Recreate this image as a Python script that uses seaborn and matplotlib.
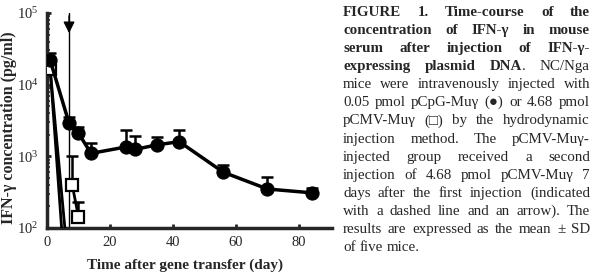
import numpy as np
import pandas as pd
import seaborn as sns
import matplotlib.pyplot as plt
from matplotlib.ticker import LogLocator, LogFormatterMathtext, NullFormatter

# pCpG-Mu-gamma (filled circles)
cpg_day = [1, 7, 10, 14, 25, 28, 35, 42, 56, 70, 84]
cpg_mean = [22000, 2900, 2100, 1100, 1350, 1250, 1450, 1600, 600, 350, 310]
cpg_upper = [28000, 3550, 2570, 1550, 2350, 1900, 1860, 2350, 760, 510, 365]

# pCMV-Mu-gamma (open squares), first injection falls below detection
cmv_day = [1, 5]
cmv_mean = [16500, 60]
cmv_drop_day = [1, 6]
cmv_drop_mean = [16500, 70]

# pCMV-Mu-gamma after the second injection on day 7
cmv2_day = [8, 10]
cmv2_mean = [400, 143]
cmv2_upper = [1000, 230]

second_injection_day = 7

caption = [
    "**FIGURE 1. Time-course of the",
    "concentration of IFN-γ in mouse",
    "serum after injection of IFN-γ-",
    "expressing plasmid DNA**. NC/Nga",
    "mice were intravenously injected with",
    "0.05 pmol pCpG-Muγ (●) or 4.68 pmol",
    "pCMV-Muγ (□) by the hydrodynamic",
    "injection method. The pCMV-Muγ-",
    "injected group received a second",
    "injection of 4.68 pmol pCMV-Muγ 7",
    "days after the first injection (indicated",
    "with a dashed line and an arrow). The",
    "results are expressed as the mean ± SD",
    "of five mice.",
]

sns.set_style("ticks")
plt.rcParams['font.family'] = ['Liberation Serif', 'DejaVu Sans']
plt.rcParams['mathtext.fontset'] = 'stix'

W, H = 597, 272
fig = plt.figure(figsize=(W / 100, H / 100), dpi=100)
ax = fig.add_axes([47 / W, 1 - 228 / H, (332 - 47) / W, (228 - 13) / H])

cpg = pd.DataFrame({"day": cpg_day, "conc": cpg_mean})
cmv = pd.DataFrame({"day": cmv_day, "conc": cmv_mean})
cmv_drop = pd.DataFrame({"day": cmv_drop_day, "conc": cmv_drop_mean})
cmv2 = pd.DataFrame({"day": cmv2_day, "conc": cmv2_mean})

# vertical marker for second injection + arrow
ax.axvline(second_injection_day, color="black", lw=1.0, zorder=1)
ax.annotate("", xy=(second_injection_day, 10 ** 4.68), xytext=(second_injection_day, 10 ** 5),
            arrowprops=dict(arrowstyle="-|>", color="black", lw=1.0, mutation_scale=17))

# upper-only error bars
ax.errorbar(cpg_day, cpg_mean, yerr=[np.zeros(len(cpg_day)), np.array(cpg_upper) - np.array(cpg_mean)],
            fmt="none", ecolor="black", elinewidth=1.8, capsize=4, capthick=1.8, zorder=2)
ax.errorbar(cmv2_day, cmv2_mean, yerr=[np.zeros(len(cmv2_day)), np.array(cmv2_upper) - np.array(cmv2_mean)],
            fmt="none", ecolor="black", elinewidth=1.8, capsize=4, capthick=1.8, zorder=2)

sns.lineplot(data=cmv_drop, x="day", y="conc", ax=ax, color="black", lw=2, zorder=3)
sns.lineplot(data=cmv, x="day", y="conc", ax=ax, color="black", lw=2, marker="s", markersize=8,
             markerfacecolor="white", markeredgecolor="black", markeredgewidth=1.6, zorder=4)
sns.lineplot(data=cmv2, x="day", y="conc", ax=ax, color="black", lw=2, marker="s", markersize=8,
             markerfacecolor="white", markeredgecolor="black", markeredgewidth=1.6, zorder=4)
sns.lineplot(data=cpg, x="day", y="conc", ax=ax, color="black", lw=2.5, marker="o", markersize=9.5,
             markerfacecolor="black", markeredgecolor="black", zorder=5)

ax.set_yscale("log")
ax.set_ylim(1e2, 1e5)
ax.set_xlim(0, 90.5)
ax.set_xticks([0, 20, 40, 60, 80])
ax.yaxis.set_major_locator(LogLocator(base=10, numticks=10))
ax.yaxis.set_major_formatter(LogFormatterMathtext())
ax.yaxis.set_minor_locator(LogLocator(base=10, subs=np.arange(2, 10), numticks=10))
ax.yaxis.set_minor_formatter(NullFormatter())
ax.tick_params(axis="both", direction="in", which="major", length=3, width=2, labelsize=10.5, pad=6)
ax.tick_params(axis="y", which="minor", direction="in", length=2, width=1.2)
for s in ["top", "right"]:
    ax.spines[s].set_visible(False)
for s in ["left", "bottom"]:
    ax.spines[s].set_linewidth(2.5)

ax.set_xlabel("Time after gene transfer (day)", fontsize=11, fontweight="bold")
ax.set_ylabel("IFN-γ concentration (pg/ml)", fontsize=11.5, fontweight="bold")
ax.xaxis.set_label_coords((185 - 47) / (332 - 47), -(265 - 228) / (228 - 13))
ax.yaxis.set_label_coords(-(47 - 9) / (332 - 47), (228 - 128) / (228 - 13))
ax.xaxis.label.set_va("center")
ax.yaxis.label.set_va("center")

# justified caption on the right
renderer = fig.canvas.get_renderer()
x_left, x_right = 343, 590
y0, dy = 12, 18.15
fs = 10.8
bold = False
for i, line in enumerate(caption):
    words = []
    for w in line.split(" "):
        segs = []
        for j, part in enumerate(w.split("**")):
            if j > 0:
                bold = not bold
            if part:
                segs.append((part, bold))
        words.append(segs)
    # draw and measure
    items = []
    for segs in words:
        ts = []
        for part, b in segs:
            t = fig.text(0, 0, part, fontsize=fs, fontweight="bold" if b else "normal",
                         va="center", ha="left", transform=None)
            ts.append((t, t.get_window_extent(renderer).width))
        items.append(ts)
    widths = [sum(wd for _, wd in ts) for ts in items]
    last = i == len(caption) - 1
    gap = 3.7 if last or len(items) == 1 else (x_right - x_left - sum(widths)) / (len(items) - 1)
    x = x_left
    ypix = H - (y0 + i * dy)
    for ts, wd in zip(items, widths):
        xx = x
        for t, w in ts:
            t.set_position((xx, ypix))
            xx += w
        x += wd + gap

fig.savefig("out.png", dpi=100)
